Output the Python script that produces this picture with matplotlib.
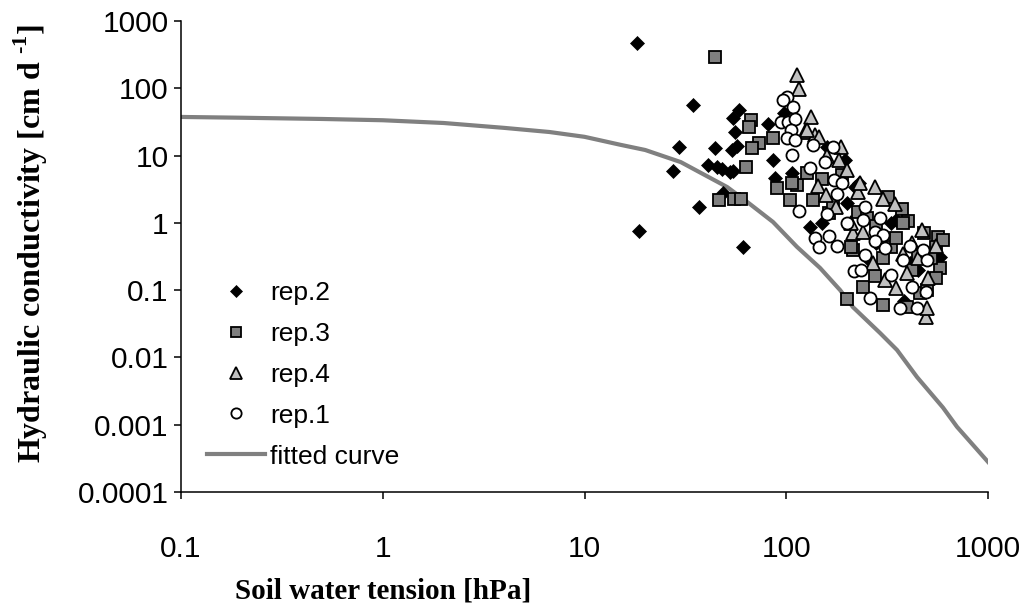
import matplotlib
matplotlib.use("Agg")
import matplotlib.pyplot as plt
from matplotlib.ticker import FixedLocator, FixedFormatter, NullLocator

# ---------------- data ----------------
rep2_x = [18.2, 34.5, 29.4, 27.5, 36.9, 18.6, 61, 40.9, 45.4, 48, 52.6, 54.4, 44.4, 53.8, 57,
          55.7, 54.4, 58.4, 81, 86, 88, 48.5, 98, 107, 131, 195, 230, 200, 150, 330, 385, 575,
          220, 160, 350, 412, 520, 555, 280, 450, 250]
rep2_y = [471, 56.5, 13.4, 5.9, 1.72, 0.76, 0.44, 7.2, 6.8, 6.3, 5.7, 5.9, 13, 12.1, 13.9,
          22.4, 36, 47.6, 29.5, 8.6, 4.6, 2.8, 43, 5.5, 0.87, 8.6, 3.9, 2.0, 1.0, 1.0, 0.07, 0.31,
          3.4, 13.4, 1.1, 0.25, 0.14, 0.3, 0.5, 0.2, 0.3]

rep3_x = [44.4, 67, 65, 73, 68, 86, 63, 46.5, 55, 60, 90, 104, 113, 127, 135, 162, 228, 318,
          375, 400, 565, 555, 575, 555, 240, 275, 300, 200, 460, 500, 214, 330, 380, 600, 190,
          395, 210, 107, 150, 170, 250, 280, 350, 450, 520, 480, 420, 300]
rep3_y = [292, 33.8, 27, 15.4, 13, 18.5, 6.8, 2.2, 2.3, 2.3, 3.3, 2.2, 3.66, 5.5, 2.2, 1.4, 1.45,
          2.4, 1.6, 1.05, 0.62, 0.44, 0.21, 0.15, 0.112, 0.16, 0.06, 0.075, 0.09, 0.1, 0.4, 0.44,
          1.0, 0.55, 5.2, 0.056, 0.44, 3.9, 4.5, 2.0, 1.2, 0.9, 0.6, 0.35, 0.3, 0.7, 0.2, 0.3]

rep4_x = [113, 116, 132, 124, 139, 146, 187, 183, 143, 158, 228, 275, 300, 345, 177, 214, 240,
          470, 310, 350, 505, 495, 500, 395, 210, 127, 232, 200, 160, 420, 450, 380, 270, 550]
rep4_y = [158, 98, 37.5, 22.4, 20, 19, 13.4, 8.6, 3.5, 2.6, 2.9, 3.4, 2.26, 1.9, 1.72, 0.71, 0.73,
          0.785, 0.142, 0.108, 0.15, 0.040, 0.055, 0.18, 1.0, 24, 3.9, 6.0, 10, 0.5, 0.3, 0.35,
          0.25, 0.45]

rep1_x = [101, 96, 108, 94, 102, 111, 105, 101, 111, 107, 135, 170, 156, 131, 173, 190, 179, 116,
          160, 200, 245, 240, 290, 275, 300, 139, 162, 146, 179, 275, 310, 245, 412, 475, 380, 500,
          216, 236, 330, 420, 260, 365, 443, 495]
rep1_y = [74, 67, 53, 31.6, 31.6, 35, 24, 18.5, 17, 10.2, 14.4, 13.4, 8.0, 6.5, 4.3, 3.9, 2.7, 1.5,
          1.36, 1.0, 1.72, 1.1, 1.2, 0.73, 0.65, 0.6, 0.63, 0.44, 0.46, 0.53, 0.42, 0.33, 0.46, 0.40,
          0.28, 0.28, 0.19, 0.2, 0.17, 0.11, 0.077, 0.054, 0.054, 0.095]

curve_x = [0.1, 0.2, 0.5, 1, 2, 4, 6.7, 10, 15, 20, 30, 51, 64, 86, 113, 147, 185, 214, 292, 354,
           445, 598, 702, 1000]
curve_y = [37.5, 36.5, 35, 33.5, 30.5, 25.8, 22.4, 19, 14.5, 12.1, 8.0, 3.4, 2.05, 1.03, 0.44,
           0.214, 0.10, 0.056, 0.023, 0.0129, 0.0051, 0.0018, 0.00093, 0.00028]

x_ticks = [0.1, 1, 10, 100, 1000]
x_labels = ["0.1", "1", "10", "100", "1000"]
y_ticks = [0.0001, 0.001, 0.01, 0.1, 1, 10, 100, 1000]
y_labels = ["0.0001", "0.001", "0.01", "0.1", "1", "10", "100", "1000"]

# ---------------- figure ----------------
plt.rcParams['font.family'] = ['Liberation Sans', 'DejaVu Sans']
plt.rcParams['mathtext.fontset'] = 'custom'
plt.rcParams['mathtext.rm'] = 'Liberation Serif:bold'
plt.rcParams['mathtext.bf'] = 'Liberation Serif:bold'

fig = plt.figure(figsize=(10.23, 6.10), dpi=100)
ax = fig.add_axes([181/1023, 1-492/610, (988-181)/1023, (492-21)/610])

ax.plot(curve_x, curve_y, color='#808080', lw=3.0, label='fitted curve', zorder=1)
ax.plot(rep2_x, rep2_y, ls='none', marker='D', ms=7.5, mfc='black', mec='black', mew=0.5,
        label='rep.2', zorder=2)
ax.plot(rep3_x, rep3_y, ls='none', marker='s', ms=8.5, mfc='#808080', mec='black', mew=1.3,
        label='rep.3', zorder=3)
ax.plot(rep4_x, rep4_y, ls='none', marker='^', ms=9.5, mfc='#c0c0c0', mec='black', mew=1.3,
        label='rep.4', zorder=4)
ax.plot(rep1_x, rep1_y, ls='none', marker='o', ms=8.7, mfc='white', mec='black', mew=1.3,
        label='rep.1', zorder=5)

ax.set_xscale('log')
ax.set_yscale('log')
ax.set_xlim(0.1, 1000)
ax.set_ylim(0.0001, 1000)
ax.xaxis.set_major_locator(FixedLocator(x_ticks))
ax.xaxis.set_major_formatter(FixedFormatter(x_labels))
ax.yaxis.set_major_locator(FixedLocator(y_ticks))
ax.yaxis.set_major_formatter(FixedFormatter(y_labels))
ax.xaxis.set_minor_locator(NullLocator())
ax.yaxis.set_minor_locator(NullLocator())

for s in ['top', 'right']:
    ax.spines[s].set_visible(False)
for s in ['left', 'bottom']:
    ax.spines[s].set_linewidth(1.1)
    ax.spines[s].set_color('black')
ax.tick_params(axis='both', direction='out', length=5, width=1.1, labelsize=21.5, colors='black')
ax.tick_params(axis='x', pad=26)
ax.tick_params(axis='y', pad=4)

fig.text(383/1023, 1-591/610, 'Soil water tension [hPa]', ha='center', va='center',
         fontsize=21, fontweight='bold', family='Liberation Serif')
fig.text(31/1023, 1-243/610, r'Hydraulic conductivity [cm d $^{\text{-1}}$]', ha='center',
         va='center', rotation=90, fontsize=23, fontweight='bold', family='Liberation Serif')

h, l = ax.get_legend_handles_labels()
order = ['rep.2', 'rep.3', 'rep.4', 'rep.1', 'fitted curve']
hh = [h[l.index(o)] for o in order]
leg = ax.legend(hh, order, loc='upper left', bbox_to_anchor=((207-181)/807, (492-281)/471),
                frameon=False, fontsize=19, handlelength=2.2, handletextpad=0.2,
                labelspacing=0.64, borderpad=0, borderaxespad=0, markerscale=0.85,
                numpoints=1)

fig.savefig('out.png', dpi=100)
